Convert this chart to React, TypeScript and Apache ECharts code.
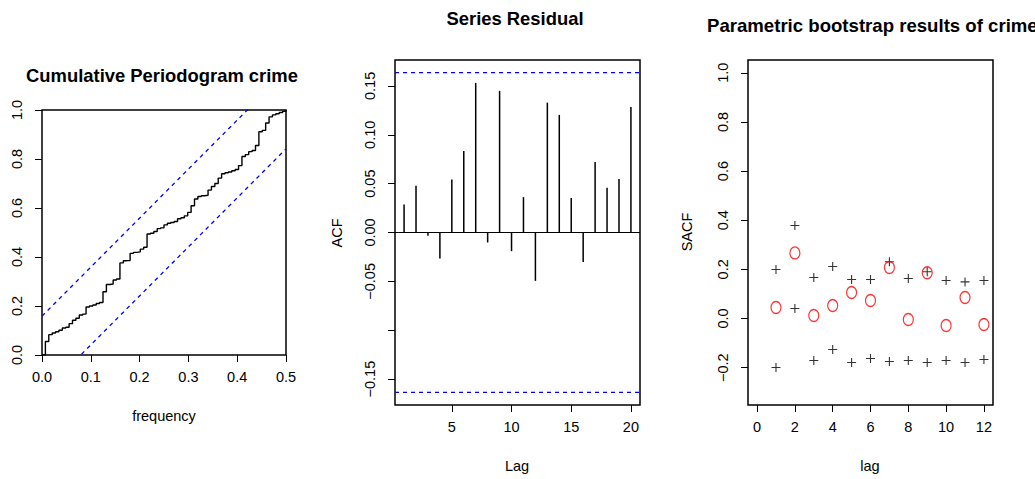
import React, { useEffect, useRef } from "react";
import * as echarts from "echarts";

// ---------- Panel 1: cumulative periodogram ----------
const cpgramN = 144; // frequencies are k / 144
const cpgramValues = [
  0.055, 0.083, 0.09, 0.095, 0.101, 0.11, 0.113, 0.128, 0.142, 0.15,
  0.163, 0.167, 0.196, 0.2, 0.204, 0.21, 0.214, 0.258, 0.288, 0.29,
  0.306, 0.31, 0.376, 0.385, 0.386, 0.415, 0.419, 0.421, 0.432, 0.44,
  0.494, 0.497, 0.504, 0.516, 0.519, 0.531, 0.538, 0.541, 0.545, 0.556,
  0.56, 0.568, 0.582, 0.609, 0.637, 0.647, 0.65, 0.652, 0.673, 0.688,
  0.7, 0.722, 0.74, 0.744, 0.747, 0.752, 0.757, 0.773, 0.81, 0.818,
  0.83, 0.835, 0.855, 0.911, 0.917, 0.947, 0.972, 0.98, 0.985, 0.99,
  0.995, 1.0,
];
const cpgramCrit = 0.1587;
const cpgramXTicks = [0, 0.1, 0.2, 0.3, 0.4, 0.5];
const cpgramYTicks = [0, 0.2, 0.4, 0.6, 0.8, 1.0];

// ---------- Panel 2: ACF of residuals ----------
const acfLags = [1, 2, 3, 4, 5, 6, 7, 8, 9, 10, 11, 12, 13, 14, 15, 16, 17, 18, 19, 20];
const acfValues = [
  0.0287, 0.0478, -0.0034, -0.0266, 0.0543, 0.0834, 0.153, -0.0102, 0.1449, -0.0191,
  0.0362, -0.0495, 0.1329, 0.1203, 0.0352, -0.0301, 0.0721, 0.0458, 0.0547, 0.1285,
];
const acfCI = 0.1636;
const acfXTicks = [5, 10, 15, 20];
const acfYTicks = [-0.15, -0.1, -0.05, 0, 0.05, 0.1, 0.15];
const acfYLabels = [-0.15, -0.05, 0, 0.05, 0.1, 0.15];

// ---------- Panel 3: parametric bootstrap ----------
const bootLags = [1, 2, 3, 4, 5, 6, 7, 8, 9, 10, 11, 12];
const bootObserved = [0.0448, 0.267, 0.0122, 0.0529, 0.106, 0.0733, 0.2076, -0.004, 0.186, -0.0285, 0.0855, -0.0244];
const bootUpper = [0.1995, 0.3786, 0.167, 0.2117, 0.1588, 0.1588, 0.2307, 0.1628, 0.19, 0.1547, 0.149, 0.1547];
const bootLower = [-0.1995, 0.0407, -0.171, -0.126, -0.179, -0.163, -0.175, -0.171, -0.179, -0.171, -0.179, -0.167];
const bootXTicks = [0, 2, 4, 6, 8, 10, 12];
const bootYTicks = [-0.2, 0, 0.2, 0.4, 0.6, 0.8, 1.0];

const FONT = "Liberation Sans";
const fmt = (d: number) => (v: number) => {
  const s = Math.abs(v).toFixed(d);
  return v < -1e-9 ? "\u2212" + s : s;
};

const tickStyle = { show: true, length: 7, lineStyle: { color: "#000", width: 1 } };

function xAxis(gridIndex: number, min: number, max: number, ticks: number[], d: number) {
  return {
    type: "value",
    gridIndex,
    min,
    max,
    position: "bottom",
    axisLine: { show: false, onZero: false },
    axisTick: { ...tickStyle, customValues: ticks },
    axisLabel: { customValues: ticks, formatter: fmt(d), color: "#000", fontSize: 14.5, fontFamily: FONT, margin: 14 },
    splitLine: { show: false },
  };
}
function yAxis(gridIndex: number, min: number, max: number, ticks: number[], labels: number[], d: number) {
  return {
    type: "value",
    gridIndex,
    min,
    max,
    position: "left",
    axisLine: { show: false, onZero: false },
    axisTick: { ...tickStyle, customValues: ticks },
    axisLabel: { customValues: labels, formatter: fmt(d), color: "#000", fontSize: 14.5, fontFamily: FONT, rotate: 90, margin: 18 },
    splitLine: { show: false },
  };
}

const ellipsePath = "path://M0,-1A1,1,0,1,1,0,1A1,1,0,1,1,0,-1Z";
const plusPath = "path://M0,-1L0,1M-1,0L1,0";

export default function App() {
  const ref = useRef<HTMLDivElement>(null);
  useEffect(() => {
    if (!ref.current) return;
    const chart = echarts.init(ref.current, undefined, { renderer: "svg" });
    const cpData: number[][] = [[0, 0]];
    cpgramValues.forEach((v, i) => cpData.push([(i + 1) / cpgramN, v]));
    const acfMin = 0.24, acfMax = 20.76;
    const text = (x: number, y: number, t: string, opts: any = {}) => ({
      type: "text",
      x,
      y,
      rotation: opts.rotation || 0,
      style: {
        text: t,
        fill: "#000",
        font: `${opts.bold ? "bold " : ""}${opts.size || 14.5}px "${FONT}"`,
        textAlign: opts.align || "center",
        textVerticalAlign: "middle",
      },
    });
    chart.setOption({
      animation: false,
      backgroundColor: "#fff",
      textStyle: { fontFamily: FONT },
      grid: [
        { left: 42, top: 110, width: 244, height: 245, show: true, borderColor: "#000", borderWidth: 1.5, backgroundColor: "transparent" },
        { left: 395, top: 60, width: 245, height: 345, show: true, borderColor: "#000", borderWidth: 1.5, backgroundColor: "transparent" },
        { left: 748, top: 60, width: 245, height: 345, show: true, borderColor: "#000", borderWidth: 1.5, backgroundColor: "transparent" },
      ],
      xAxis: [
        xAxis(0, 0, 0.5, cpgramXTicks, 1),
        xAxis(1, acfMin, acfMax, acfXTicks, 0),
        xAxis(2, -0.48, 12.48, bootXTicks, 0),
      ],
      yAxis: [
        yAxis(0, 0, 1, cpgramYTicks, cpgramYTicks, 1),
        yAxis(1, -0.1765, 0.1765, acfYTicks, acfYLabels, 2),
        yAxis(2, -0.352, 1.052, bootYTicks, bootYTicks, 1),
      ],
      series: [
        {
          type: "line", xAxisIndex: 0, yAxisIndex: 0, data: cpData, step: "end", showSymbol: false,
          lineStyle: { color: "#000", width: 1.4 }, clip: true,
        },
        {
          type: "line", xAxisIndex: 0, yAxisIndex: 0, data: [[0, cpgramCrit], [0.5, 1 + cpgramCrit]], showSymbol: false,
          lineStyle: { color: "#0000ff", width: 1.3, type: [4, 4] }, clip: true,
        },
        {
          type: "line", xAxisIndex: 0, yAxisIndex: 0, data: [[0, -cpgramCrit], [0.5, 1 - cpgramCrit]], showSymbol: false,
          lineStyle: { color: "#0000ff", width: 1.3, type: [4, 4] }, clip: true,
        },
        {
          type: "line", xAxisIndex: 1, yAxisIndex: 1, data: [[acfMin, 0], [acfMax, 0]], showSymbol: false,
          lineStyle: { color: "#000", width: 1.2 },
        },
        {
          type: "line", xAxisIndex: 1, yAxisIndex: 1, data: [[acfMin, acfCI], [acfMax, acfCI]], showSymbol: false,
          lineStyle: { color: "#0000ff", width: 1.3, type: [4, 4] },
        },
        {
          type: "line", xAxisIndex: 1, yAxisIndex: 1, data: [[acfMin, -acfCI], [acfMax, -acfCI]], showSymbol: false,
          lineStyle: { color: "#0000ff", width: 1.3, type: [4, 4] },
        },
        {
          type: "custom", xAxisIndex: 1, yAxisIndex: 1,
          data: acfLags.map((l, i) => [l, acfValues[i]]),
          renderItem: (_p: any, api: any) => {
            const a = api.coord([api.value(0), 0]);
            const b = api.coord([api.value(0), api.value(1)]);
            return { type: "line", shape: { x1: a[0], y1: a[1], x2: b[0], y2: b[1] }, style: { stroke: "#000", lineWidth: 1.5 } };
          },
        },
        {
          type: "scatter", xAxisIndex: 2, yAxisIndex: 2, data: bootLags.map((l, i) => [l, bootUpper[i]]),
          symbol: plusPath, symbolSize: 9, itemStyle: { color: "transparent", borderColor: "#000", borderWidth: 1.1 },
        },
        {
          type: "scatter", xAxisIndex: 2, yAxisIndex: 2, data: bootLags.map((l, i) => [l, bootLower[i]]),
          symbol: plusPath, symbolSize: 9, itemStyle: { color: "transparent", borderColor: "#000", borderWidth: 1.1 },
        },
        {
          type: "scatter", xAxisIndex: 2, yAxisIndex: 2, data: bootLags.map((l, i) => [l, bootObserved[i]]),
          symbol: ellipsePath, symbolSize: [10, 12], itemStyle: { color: "transparent", borderColor: "#ff0000", borderWidth: 1.3 },
        },
      ],
      graphic: [
        text(162, 75, "Cumulative Periodogram crime", { bold: true, size: 18.4 }),
        text(164, 416, "frequency"),
        text(515, 18, "Series Residual", { bold: true, size: 18.4 }),
        text(517, 466, "Lag"),
        text(337, 233, "ACF", { rotation: Math.PI / 2 }),
        text(707, 25, "Parametric bootstrap results of crime", { bold: true, size: 18.6, align: "left" }),
        text(870, 466, "lag"),
        text(687, 232, "SACF", { rotation: Math.PI / 2 }),
      ],
    });
    return () => chart.dispose();
  }, []);
  return <div ref={ref} style={{ position: "absolute", left: 0, top: 0, width: 1035, height: 479 }} />;
}
